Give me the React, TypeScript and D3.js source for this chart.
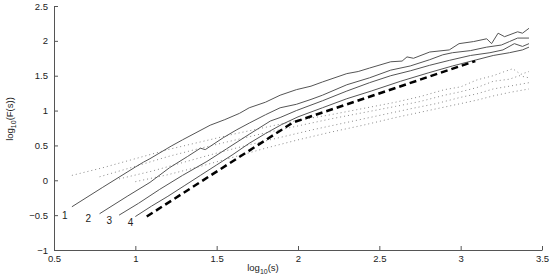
import { useEffect, useRef } from "react";
import * as d3 from "d3";

type Pt = [number, number];

// solid curves, numbered 1..4 at their left ends
const curve1: Pt[] = [
  [0.61, -0.38], [0.8, -0.1], [1.0, 0.19], [1.05, 0.26], [1.09, 0.31], [1.22, 0.49],
  [1.29, 0.58], [1.46, 0.79], [1.55, 0.87], [1.64, 0.96], [1.7, 1.04], [1.8, 1.12],
  [1.89, 1.22], [1.99, 1.3], [2.08, 1.35], [2.15, 1.41], [2.3, 1.53], [2.37, 1.56],
  [2.44, 1.61], [2.57, 1.7], [2.64, 1.71], [2.67, 1.77], [2.71, 1.75], [2.81, 1.84],
  [2.93, 1.87], [2.99, 1.96], [3.08, 1.99], [3.16, 2.03], [3.19, 1.96], [3.23, 2.11],
  [3.27, 2.06], [3.35, 2.13], [3.38, 2.11], [3.42, 2.18],
];
const curve2: Pt[] = [
  [0.78, -0.48], [0.95, -0.23], [1.09, -0.03], [1.21, 0.18], [1.32, 0.34], [1.4, 0.46],
  [1.43, 0.44], [1.54, 0.61], [1.62, 0.72], [1.7, 0.82], [1.8, 0.94], [1.89, 1.04],
  [1.99, 1.09], [2.08, 1.16], [2.15, 1.22], [2.3, 1.37], [2.44, 1.47], [2.57, 1.58],
  [2.69, 1.64], [2.81, 1.73], [2.89, 1.8], [2.95, 1.83], [3.06, 1.86], [3.16, 1.91],
  [3.25, 1.94], [3.3, 1.99], [3.35, 2.04], [3.42, 2.04],
];
const curve3: Pt[] = [
  [0.9, -0.5], [1.02, -0.33], [1.15, -0.13], [1.29, 0.07], [1.44, 0.27], [1.56, 0.45],
  [1.7, 0.66], [1.83, 0.85], [1.89, 0.9], [1.99, 1.0], [2.15, 1.14], [2.3, 1.28],
  [2.44, 1.4], [2.57, 1.5], [2.69, 1.57], [2.81, 1.65], [2.93, 1.72], [3.06, 1.79],
  [3.18, 1.83], [3.26, 1.87], [3.33, 1.96], [3.38, 1.92], [3.42, 1.96],
];
const curve4: Pt[] = [
  [1.0, -0.52], [1.1, -0.37], [1.2, -0.23], [1.3, -0.08], [1.4, 0.07], [1.5, 0.22],
  [1.6, 0.37], [1.7, 0.53], [1.8, 0.67], [1.9, 0.8], [2.0, 0.91], [2.15, 1.04],
  [2.3, 1.17], [2.45, 1.28], [2.63, 1.42], [2.8, 1.54], [2.95, 1.64], [3.1, 1.73],
  [3.2, 1.79], [3.3, 1.83], [3.38, 1.87], [3.42, 1.91],
];

// thick dashed reference line
const dashedRef: Pt[] = [[1.07, -0.52], [1.97, 0.83], [3.09, 1.71]];

// dotted curves
const dotted1: Pt[] = [
  [0.61, 0.07], [0.8, 0.18], [1.0, 0.31], [1.2, 0.44], [1.4, 0.55], [1.6, 0.66],
  [1.8, 0.76], [2.0, 0.86], [2.2, 0.94], [2.4, 1.03], [2.6, 1.12], [2.75, 1.2],
  [2.9, 1.3], [3.0, 1.34], [3.1, 1.44], [3.2, 1.5], [3.27, 1.56], [3.32, 1.6],
  [3.37, 1.52], [3.42, 1.56],
];
const dotted2: Pt[] = [
  [0.78, 0.05], [1.0, 0.2], [1.2, 0.34], [1.4, 0.46], [1.6, 0.57], [1.8, 0.68],
  [2.0, 0.78], [2.2, 0.88], [2.4, 0.97], [2.6, 1.06], [2.75, 1.13], [2.9, 1.22],
  [3.0, 1.27], [3.1, 1.33], [3.2, 1.42], [3.3, 1.45], [3.36, 1.5], [3.42, 1.47],
];
const dotted3: Pt[] = [
  [0.9, 0.02], [1.1, 0.13], [1.3, 0.26], [1.5, 0.39], [1.7, 0.51], [1.9, 0.62],
  [2.1, 0.73], [2.3, 0.83], [2.5, 0.93], [2.7, 1.03], [2.85, 1.1], [3.0, 1.19],
  [3.1, 1.24], [3.2, 1.31], [3.3, 1.35], [3.42, 1.4],
];
const dotted4: Pt[] = [
  [1.0, -0.02], [1.2, 0.08], [1.4, 0.2], [1.6, 0.33], [1.8, 0.46], [2.0, 0.58],
  [2.2, 0.69], [2.4, 0.79], [2.6, 0.9], [2.8, 1.0], [3.0, 1.1], [3.1, 1.15],
  [3.2, 1.21], [3.3, 1.26], [3.42, 1.31],
];

const curveNames = ["1", "2", "3", "4"];
const curveLabelPos: Pt[] = [[0.566, -0.5], [0.71, -0.55], [0.84, -0.58], [0.97, -0.61]];

const xTicks = [0.5, 1, 1.5, 2, 2.5, 3, 3.5];
const yTicks = [-1, -0.5, 0, 0.5, 1, 1.5, 2, 2.5];

const W = 554;
const H = 277;
const FONT = "'Liberation Sans', Arial, sans-serif";

export default function App() {
  const xAxisRef = useRef<SVGGElement | null>(null);
  const yAxisRef = useRef<SVGGElement | null>(null);

  const x = d3.scaleLinear().domain([0.5, 3.5]).range([54, 542]);
  const y = d3.scaleLinear().domain([-1, 2.5]).range([250, 6]);

  const line = d3
    .line<Pt>()
    .x((d) => x(d[0]))
    .y((d) => y(d[1]));

  useEffect(() => {
    const fmt = (d: d3.NumberValue) => d3.format("")(d as number);

    const xa = d3.select(xAxisRef.current!);
    xa.selectAll("*").remove();
    xa.call(
      d3.axisBottom(x).tickValues(xTicks).tickSize(-4).tickSizeOuter(0).tickPadding(5).tickFormat(fmt)
    );

    const ya = d3.select(yAxisRef.current!);
    ya.selectAll("*").remove();
    ya.call(
      d3.axisLeft(y).tickValues(yTicks).tickSize(-4).tickSizeOuter(0).tickPadding(6).tickFormat(fmt)
    );

    [xa, ya].forEach((g) => {
      g.select(".domain").attr("stroke", "#555").attr("stroke-width", 1);
      g.selectAll(".tick line").attr("stroke", "#555");
      g.selectAll(".tick text")
        .attr("fill", "#222")
        .style("font-family", FONT)
        .style("font-size", "9.5px");
    });
  }, []);

  const solids = [curve1, curve2, curve3, curve4];
  const dots = [dotted1, dotted2, dotted3, dotted4];

  return (
    <svg
      width={W}
      height={H}
      style={{ position: "absolute", left: 0, top: 0, background: "#fff" }}
    >
      <g ref={yAxisRef} transform={`translate(${x(0.5)},0)`} />
      <g ref={xAxisRef} transform={`translate(0,${y(-1)})`} />

      {dots.map((d, i) => (
        <path
          key={"d" + i}
          d={line(d) || ""}
          fill="none"
          stroke="#8a8a8a"
          strokeWidth={1}
          strokeDasharray="1 3"
        />
      ))}

      {solids.map((d, i) => (
        <path key={"s" + i} d={line(d) || ""} fill="none" stroke="#555" strokeWidth={1} />
      ))}

      <path
        d={line(dashedRef) || ""}
        fill="none"
        stroke="#000"
        strokeWidth={2.5}
        strokeDasharray="7 4"
      />

      {curveNames.map((n, i) => (
        <text
          key={"l" + i}
          x={x(curveLabelPos[i][0])}
          y={y(curveLabelPos[i][1])}
          textAnchor="middle"
          dominantBaseline="central"
          fontFamily={FONT}
          fontSize={10}
          fill="#222"
        >
          {n}
        </text>
      ))}

      <text x={263} y={271} textAnchor="middle" fontFamily={FONT} fontSize={9.5} fill="#222">
        log<tspan dy={3} fontSize={7}>10</tspan>
        <tspan dy={-3}>(s)</tspan>
      </text>

      <text
        transform={`translate(13,119) rotate(-90)`}
        textAnchor="middle"
        fontFamily={FONT}
        fontSize={9.5}
        fill="#222"
      >
        log<tspan dy={3} fontSize={7}>10</tspan>
        <tspan dy={-3}>(F(s))</tspan>
      </text>
    </svg>
  );
}
